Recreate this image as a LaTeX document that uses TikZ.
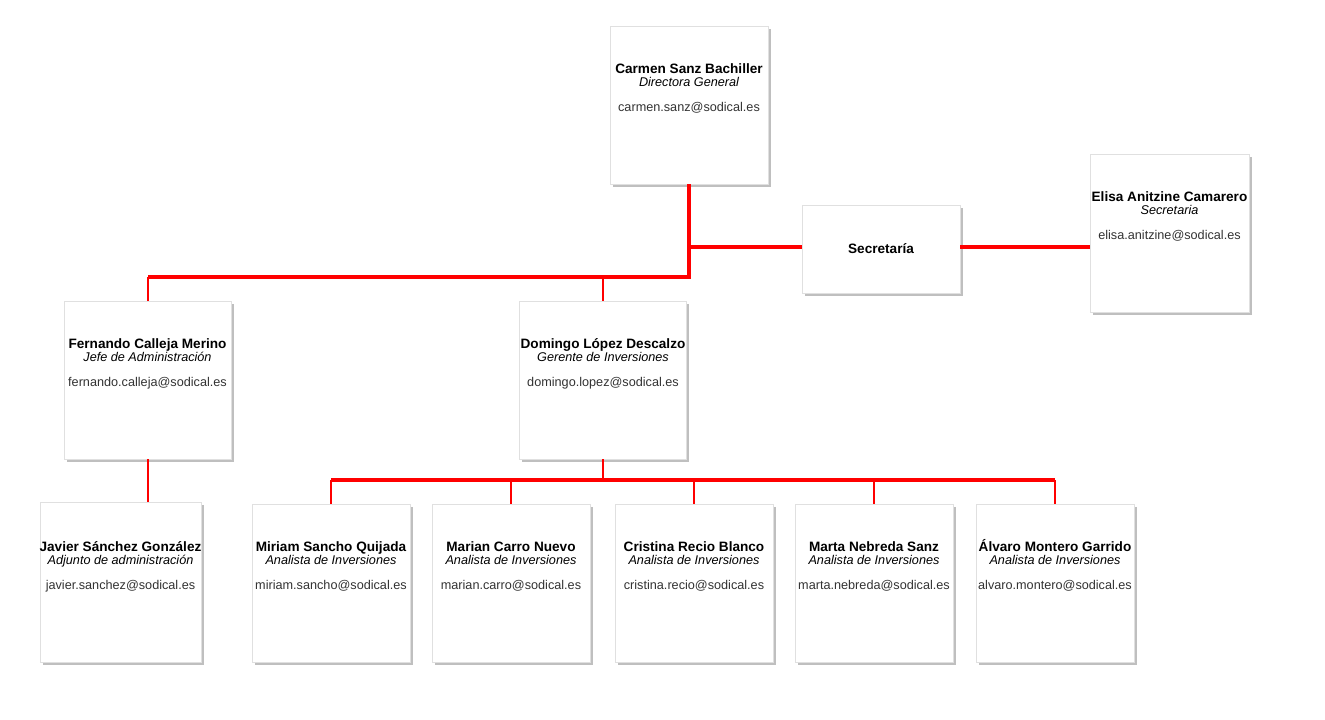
\documentclass[tikz,border=0pt]{standalone}
\usepackage{fontspec}
\setmainfont{Liberation Sans}
\usetikzlibrary{shadows}

\definecolor{linkred}{RGB}{255,0,0}
\definecolor{mailgray}{RGB}{51,51,51}

\tikzset{
  card/.style={draw=black!12, fill=white, inner sep=0pt,
    minimum width=#1*0.75pt, minimum height=158*0.75pt,
    drop shadow={shadow xshift=2.2pt, shadow yshift=-2.4pt, fill=black!50, opacity=0.5}},
  card/.default=158,
  cardtext/.style={anchor=north, align=center, inner sep=0pt, font=\fontsize{9.5}{10.5}\selectfont},
  trunk/.style={draw=linkred, line width=3pt},
  twig/.style={draw=linkred, line width=1.5pt},
}

% name / role / mail
\newcommand{\who}[3]{{\fontsize{10.2}{10.5}\selectfont\bfseries\vphantom{Á}#1}\\[-0.5pt]{\itshape #2}\\[8.5pt]{\color{mailgray}#3}}

\begin{document}
\begin{tikzpicture}[x=0.75pt, y=-0.75pt]
  \useasboundingbox (0,0) rectangle (1325,720);

  % top level
  \node[card] (carmen) at (689,105) {};
  \node[cardtext] (carmen-t) at (689,61) {\who{Carmen Sanz Bachiller}{Directora General}{carmen.sanz@sodical.es}};
  \node[card, minimum height=88*0.75pt] (secretaria) at (881,249) {\fontsize{10.2}{10.5}\selectfont\bfseries Secretaría};
  \node[card=159] (elisa) at (1169.5,233) {};
  \node[cardtext] (elisa-t) at (1169.5,189) {\who{Elisa Anitzine Camarero}{Secretaria}{elisa.anitzine@sodical.es}};

  % second level
  \node[card=167] (fernando) at (147.5,380) {};
  \node[cardtext] (fernando-t) at (147.5,336) {\who{Fernando Calleja Merino}{Jefe de Administración}{fernando.calleja@sodical.es}};
  \node[card=167] (domingo) at (603,380) {};
  \node[cardtext] (domingo-t) at (603,336) {\who{Domingo López Descalzo}{Gerente de Inversiones}{domingo.lopez@sodical.es}};

  % third level
  \node[card=161, minimum height=160*0.75pt] (javier) at (120.5,582) {};
  \node[cardtext] (javier-t) at (120.5,539) {\who{Javier Sánchez González}{Adjunto de administración}{javier.sanchez@sodical.es}};
  \foreach \x/\id/\name/\mail in {
      331/miriam/{Miriam Sancho Quijada}/{miriam.sancho@sodical.es},
      511/marian/{Marian Carro Nuevo}/{marian.carro@sodical.es},
      694/cristina/{Cristina Recio Blanco}/{cristina.recio@sodical.es},
      874/marta/{Marta Nebreda Sanz}/{marta.nebreda@sodical.es},
      1055/alvaro/{Álvaro Montero Garrido}/{alvaro.montero@sodical.es}} {
    \node[card] (\id) at (\x,583) {};
    \node[cardtext] (\id-t) at (\x,539) {\who{\name}{Analista de Inversiones}{\mail}};
  }

  % connectors
  \coordinate (bus1) at (carmen.south |- 0,277);
  \coordinate (bus2) at (domingo.south |- 0,480);
  \draw[trunk] (carmen.south) -- (bus1) -- (bus1 -| fernando.north);
  \draw[trunk] (carmen.south |- 0,247) -- (secretaria.west |- 0,247);
  \draw[trunk] (secretaria.east |- 0,247) -- (elisa.west |- 0,247);
  \draw[twig] (bus1 -| fernando.north) -- (fernando.north);
  \draw[twig] (bus1 -| domingo.north) -- (domingo.north);
  \draw[twig] (fernando.south) -- (fernando.south |- javier.north);
  \draw[trunk, line width=2.2pt] (domingo.south) -- (bus2);
  \draw[trunk] (bus2 -| miriam.north) -- (bus2 -| alvaro.north);
  \foreach \id in {miriam,marian,cristina,marta,alvaro}
    \draw[twig] (bus2 -| \id.north) -- (\id.north);
\end{tikzpicture}
\end{document}
